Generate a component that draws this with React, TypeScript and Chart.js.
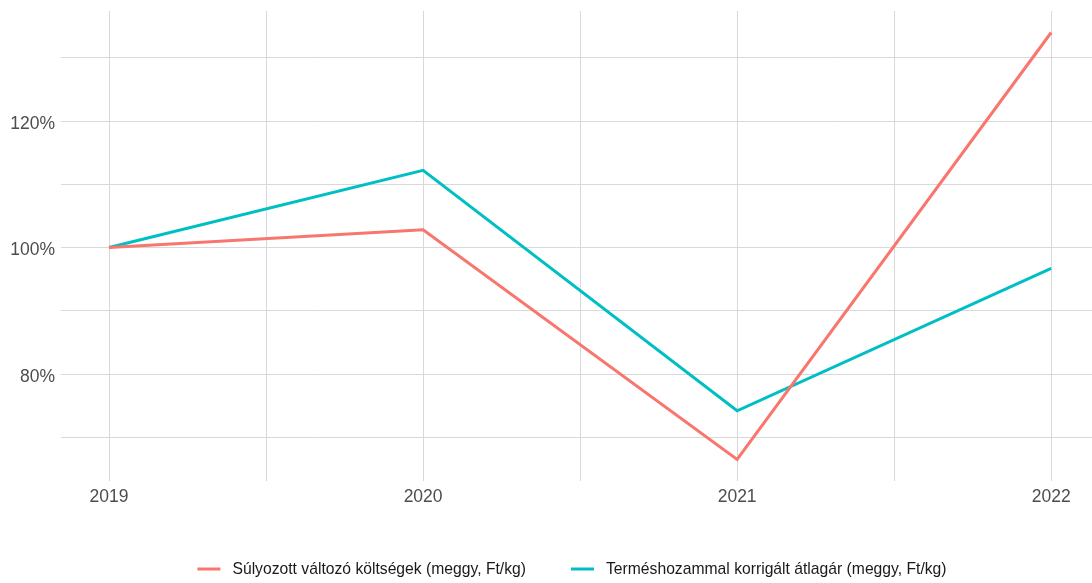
import React, { useEffect, useRef } from "react";
import { Chart, registerables } from "chart.js";

Chart.register(...registerables);

const years = [2019, 2020, 2021, 2022];
const costSeries = [100, 102.8, 66.5, 134.0];
const priceSeries = [100, 112.2, 74.2, 96.7];
const seriesLabels = [
  "Súlyozott változó költségek (meggy, Ft/kg)",
  "Terméshozammal korrigált átlagár (meggy, Ft/kg)",
];
const seriesColors = ["#F8766D", "#00BFC4"];
const yGridValues = [70, 80, 90, 100, 110, 120, 130];
const yLabelValues = [80, 100, 120];
const xGridValues = [2019, 2019.5, 2020, 2020.5, 2021, 2021.5, 2022];

const FONT = "'Liberation Sans', Arial, sans-serif";

const bottomLegend = {
  id: "bottomLegend",
  afterDraw(chart: any) {
    const ctx = chart.ctx;
    ctx.save();
    ctx.font = `15.7px ${FONT}`;
    ctx.textBaseline = "middle";
    ctx.textAlign = "left";
    const swatch = 23;
    const gapText = 12;
    const gapItem = 45;
    const items = chart.data.datasets.map((d: any) => ({
      label: d.label,
      color: d.borderColor,
      w: ctx.measureText(d.label).width,
    }));
    let total = 0;
    items.forEach((it: any, i: number) => {
      total += swatch + gapText + it.w + (i > 0 ? gapItem : 0);
    });
    let x = 572 - total / 2;
    const y = 570;
    items.forEach((it: any) => {
      ctx.strokeStyle = it.color;
      ctx.lineWidth = 3;
      ctx.beginPath();
      ctx.moveTo(x, y - 1);
      ctx.lineTo(x + swatch, y - 1);
      ctx.stroke();
      ctx.fillStyle = "#1a1a1a";
      ctx.fillText(it.label, x + swatch + gapText, y);
      x += swatch + gapText + it.w + gapItem;
    });
    ctx.restore();
  },
};

export default function App() {
  const ref = useRef<HTMLCanvasElement | null>(null);

  useEffect(() => {
    document.body.style.margin = "0";
    const ctx = ref.current!;
    const chart = new Chart(ctx, {
      type: "line",
      data: {
        datasets: [
          {
            label: seriesLabels[0],
            data: years.map((y, i) => ({ x: y, y: costSeries[i] })),
            borderColor: seriesColors[0],
            backgroundColor: seriesColors[0],
            borderWidth: 3,
            pointRadius: 0,
            tension: 0,
          },
          {
            label: seriesLabels[1],
            data: years.map((y, i) => ({ x: y, y: priceSeries[i] })),
            borderColor: seriesColors[1],
            backgroundColor: seriesColors[1],
            borderWidth: 3,
            pointRadius: 0,
            tension: 0,
          },
        ],
      },
      plugins: [bottomLegend],
      options: {
        animation: false,
        responsive: false,
        layout: { padding: { top: 11, right: 0, bottom: 42, left: 0 } },
        plugins: {
          tooltip: { enabled: false },
          legend: { display: false },
        },
        scales: {
          x: {
            type: "linear",
            min: 2018.847,
            max: 2022.13,
            afterBuildTicks: (s: any) => {
              s.ticks = xGridValues.map((v) => ({ value: v }));
            },
            afterFit: (s: any) => {
              s.height = 60;
              s.paddingLeft = 0;
              s.paddingRight = 0;
            },
            border: { display: false },
            grid: { color: "#d9d9d9", lineWidth: 1, drawTicks: false },
            ticks: {
              autoSkip: false,
              maxRotation: 0,
              padding: 6,
              color: "#4d4d4d",
              font: { family: FONT, size: 17.5 },
              callback: (v: any) => (Number.isInteger(v) ? String(v) : ""),
            },
          },
          y: {
            type: "linear",
            min: 63.1,
            max: 137.4,
            afterBuildTicks: (s: any) => {
              s.ticks = yGridValues.map((v) => ({ value: v }));
            },
            afterFit: (s: any) => {
              s.width = 61;
              s.paddingTop = 0;
              s.paddingBottom = 0;
            },
            border: { display: false },
            grid: { color: "#d9d9d9", lineWidth: 1, drawTicks: false },
            ticks: {
              autoSkip: false,
              padding: 6,
              labelOffset: 3,
              color: "#4d4d4d",
              font: { family: FONT, size: 17.5 },
              callback: (v: any) =>
                yLabelValues.includes(v) ? `${v}%` : "",
            },
          },
        },
      },
    });
    return () => chart.destroy();
  }, []);

  return (
    <div style={{ position: "fixed", left: 0, top: 0, width: 1092, height: 583, background: "#fff" }}>
      <canvas ref={ref} width={1092} height={583} />
    </div>
  );
}
